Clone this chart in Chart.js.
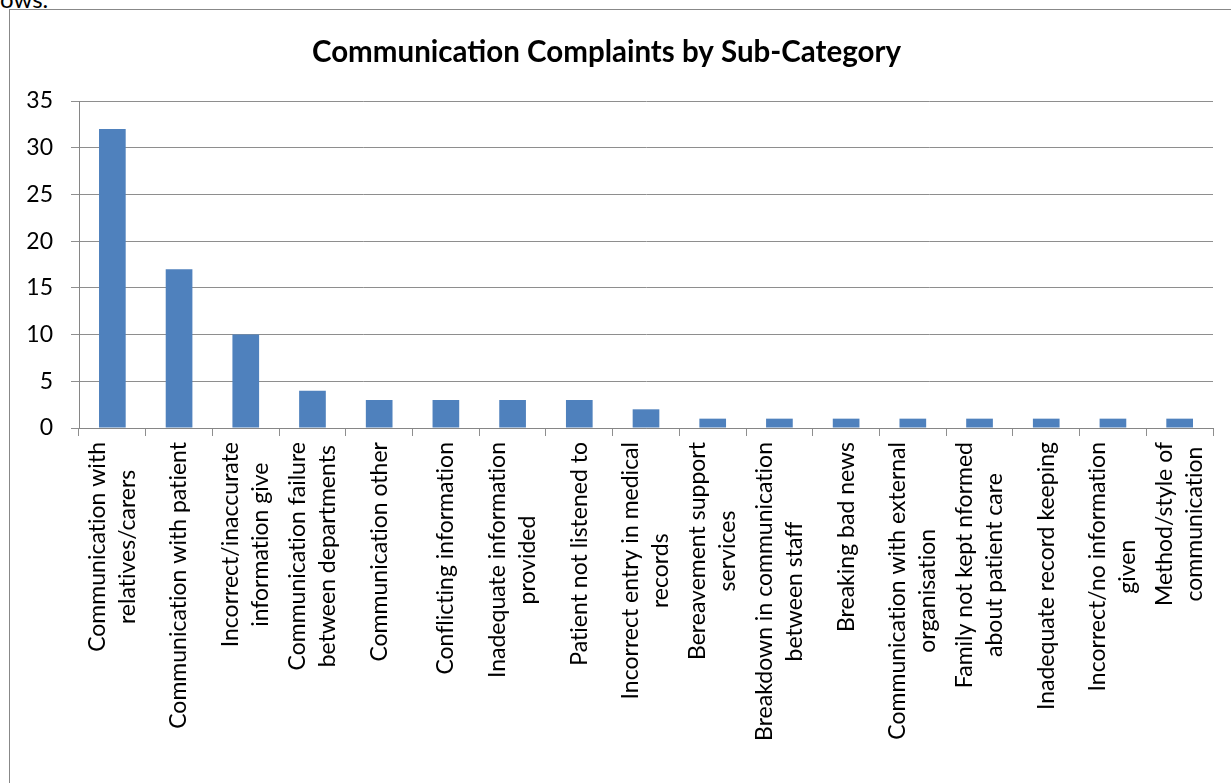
<!DOCTYPE html>
<html>
<head>
<meta charset="utf-8">
<script src="https://cdn.jsdelivr.net/npm/chart.js@4"></script>
<style>
    body { margin: 0; background: #fff; overflow: hidden; }
    #wrap { position: relative; width: 1231px; height: 783px; }
    #note { position: absolute; left: 0; top: -16px; font: 24px Lato, sans-serif; color: #000; }
    #frame { position: absolute; left: 9px; top: 9px; width: 1300px; height: 900px; border: 1px solid #888; }
    #chart { position: absolute; left: 0; top: 0; }
</style>
</head>
<body>
<div id="wrap">
    <div id="note">ows.</div>
    <div id="frame"></div>
    <canvas id="chart" width="1231" height="783"></canvas>
</div>
<script>
const categories = [
    ['Communication with', 'relatives/carers'],
    ['Communication with patient'],
    ['Incorrect/inaccurate', 'information give'],
    ['Communication failure', 'between departments'],
    ['Communication other'],
    ['Conflicting information'],
    ['Inadequate information', 'provided'],
    ['Patient not listened to'],
    ['Incorrect entry in medical', 'records'],
    ['Bereavement support', 'services'],
    ['Breakdown in communication', 'between staff'],
    ['Breaking bad news'],
    ['Communication with external', 'organisation'],
    ['Family not kept nformed', 'about patient care'],
    ['Inadequate record keeping'],
    ['Incorrect/no information', 'given'],
    ['Method/style of', 'communication']
];
const complaints = [32, 17, 10, 4, 3, 3, 3, 3, 2, 1, 1, 1, 1, 1, 1, 1, 1];
const yTicks = [0, 5, 10, 15, 20, 25, 30, 35];

const FONT = 'Lato, "Open Sans", sans-serif';
const LABEL_SIZE = 23;
const LINE_H = 30;

// rotated category labels, each line centred within its block
const xLabels = {
    id: 'xLabels',
    afterDraw(chart) {
        const ctx = chart.ctx;
        const x = chart.scales.x;
        ctx.save();
        ctx.font = LABEL_SIZE + 'px ' + FONT;
        ctx.letterSpacing = '0.01px'; // keeps "ti" from turning into a ligature
        ctx.fillStyle = '#000';
        ctx.textAlign = 'center';
        ctx.textBaseline = 'middle';
        categories.forEach((lines, i) => {
            const w = Math.max(...lines.map(l => ctx.measureText(l).width));
            const px = x.getPixelForValue(i);
            ctx.save();
            ctx.translate(px, x.top + 14 + w / 2);
            ctx.rotate(-Math.PI / 2);
            lines.forEach((line, j) => {
                ctx.fillText(line, 0, (j - (lines.length - 1) / 2) * LINE_H);
            });
            ctx.restore();
        });
        ctx.restore();
    }
};

new Chart(document.getElementById('chart'), {
    type: 'bar',
    data: {
        labels: categories.map(c => c.join(' ')),
        datasets: [{
            data: complaints,
            backgroundColor: '#4F81BD',
            borderWidth: 0,
            categoryPercentage: 1,
            barPercentage: 0.4
        }]
    },
    options: {
        responsive: false,
        animation: false,
        layout: { padding: { left: 0, right: 18, top: 0, bottom: 0 } },
        plugins: {
            legend: { display: false },
            tooltip: { enabled: false },
            title: {
                display: true,
                text: 'Communication Complaints by Sub-Category',
                color: '#000',
                font: { family: FONT, size: 29.5, weight: 'bold' },
                padding: { top: 35, bottom: 30.6 }
            }
        },
        scales: {
            x: {
                afterFit: s => { s.height = 355; },
                ticks: { display: false },
                grid: { drawOnChartArea: false, drawTicks: true, tickLength: 8, color: '#8e8e8e' },
                border: { color: '#868686' }
            },
            y: {
                min: 0,
                max: 35,
                afterFit: s => { s.width = 79; },
                afterBuildTicks: s => { s.ticks = yTicks.map(v => ({ value: v })); },
                ticks: { color: '#000', padding: 18, font: { family: FONT, size: 23 } },
                grid: { color: '#8e8e8e', tickLength: 8 },
                border: { color: '#868686' }
            }
        }
    },
    plugins: [xLabels]
});
</script>
</body>
</html>
